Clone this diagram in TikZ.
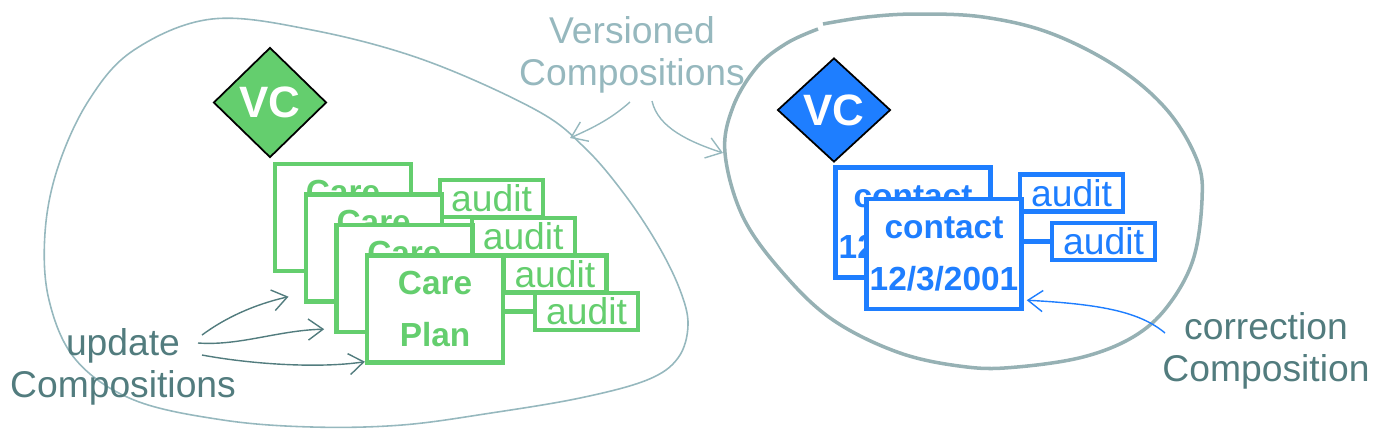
\documentclass[tikz,border=0pt]{standalone}
\usepackage{fontspec}
\setmainfont{Liberation Sans}
\usetikzlibrary{shapes.geometric,calc,arrows.meta}

\definecolor{vcgreen}{RGB}{100,206,110}
\definecolor{vcblue}{RGB}{30,126,255}
\definecolor{paleteal}{RGB}{150,184,190}
\definecolor{blobgray}{RGB}{150,177,180}
\definecolor{darkteal}{RGB}{82,124,126}

\tikzset{
  vcdiamond/.style={diamond,draw=black,line width=0.5pt,inner sep=0pt,
    minimum width=11.3mm,minimum height=11mm,text=white,
    font=\fontsize{12.5}{14}\selectfont\bfseries},
  compbox/.style={rectangle,draw,fill=white,line width=1.25pt,inner sep=0pt,
    align=center,font=\fontsize{9.5}{14.6}\selectfont\bfseries},
  auditbox/.style={rectangle,draw,fill=white,line width=1.25pt,inner sep=0pt,
    minimum width=10.3mm,minimum height=3.7mm,font=\fontsize{10.6}{12}\selectfont},
  notetext/.style={align=center,inner sep=0pt,font=\fontsize{10.6}{12.1}\selectfont},
  pointer/.style={->,line width=0.4pt},
  >={Straight Barb[length=4.2pt,width=6pt]}
}

\begin{document}
\begin{tikzpicture}[x=0.1mm,y=-0.1mm]
\useasboundingbox (0,0) rectangle (1387,446);

% the two containers
\draw[paleteal,line width=0.45pt] plot[smooth cycle,tension=0.6] coordinates {(212,19) (312,30) (424,60) (536,110) (585,148) (625,195) (658,245) (680,290) (688,325) (678,358) (647,380) (580,398) (491,413) (402,425) (312,427) (223,420) (134,400) (76,360) (49,300) (45,233) (58,167) (89,100) (134,50)};
\draw[blobgray,line width=1pt] plot[smooth,tension=0.6] coordinates {(823,24) (867,17) (917,14) (983,17) (1050,33) (1117,67) (1167,110) (1197,160) (1202,200) (1193,260) (1167,307) (1133,337) (1083,357) (1017,367) (967,367) (900,353) (833,320) (783,273) (743,217) (725,153) (733,107) (757,67) (787,43) (818,29)};

% left: care plan versions
\node[vcdiamond,fill=vcgreen] (vcl) at (270,102.5) {VC};
\foreach \i in {0,...,3}{
  \node[compbox,draw=vcgreen,text=vcgreen,minimum width=13.6mm,minimum height=10.7mm]
    (care\i) at (343+30.7*\i,217.5+30.5*\i) {Care\\Plan};
  \node[auditbox,draw=vcgreen,text=vcgreen] (aud\i) at (491.5+31.7*\i,198.5+37.7*\i) {audit};
}
\draw[vcgreen,line width=1.25pt] (care3.east |- aud3.west) -- (aud3.west);

% right: contact with correction
\node[vcdiamond,fill=vcblue,minimum height=10.4mm] (vcr) at (834,110) {VC};
\node[compbox,draw=vcblue,text=vcblue,minimum width=15.5mm,minimum height=11mm]
  (cont0) at (913,222.5) {contact\\12/3/2001};
\node[auditbox,draw=vcblue,text=vcblue] (raud0) at (1071.5,193) {audit};
\node[compbox,draw=vcblue,text=vcblue,minimum width=15.5mm,minimum height=11mm]
  (cont1) at (944,254) {contact\\12/3/2001};
\node[auditbox,draw=vcblue,text=vcblue] (raud1) at (1103.5,241.5) {audit};
\draw[vcblue,line width=1.25pt] (cont1.east |- raud1.west) -- (raud1.west);

% labels
\node[notetext,text=paleteal] (vers) at (632,55) {Versioned\\Compositions};
\node[notetext,text=darkteal] (upd) at (123,367) {update\\Compositions};
\node[notetext,text=darkteal] (corr) at (1266,351) {correction\\Composition};

\coordinate (lhit) at (570,138);
\coordinate (rhit) at (723,153);
\draw[pointer,paleteal] ($(vers)+(-2,47)$) .. controls +(-18,16) and +(25,-11) .. (lhit);
\draw[pointer,paleteal] ($(vers)+(20,46)$) .. controls +(6,27) and +(-33,-11) .. (rhit);

\draw[pointer,darkteal] ($(upd)+(79,-32)$) .. controls +(23,-17) and +(-35,8) .. ($(care1.south west)+(-15,-7)$);
\draw[pointer,darkteal] ($(upd)+(75,-24)$) .. controls +(42,3) and +(-46,1) .. ($(care2.south west)+(-10,-5)$);
\draw[pointer,darkteal] ($(upd)+(79,-12)$) .. controls +(48,9) and +(-47,7) .. ($(care3.south west)+(0,-3)$);

\draw[pointer,vcblue] ($(corr)+(-101,-18)$) .. controls +(-25,-21) and +(75,4) .. ($(cont1.south east)+(3,-11)$);
\end{tikzpicture}
\end{document}
